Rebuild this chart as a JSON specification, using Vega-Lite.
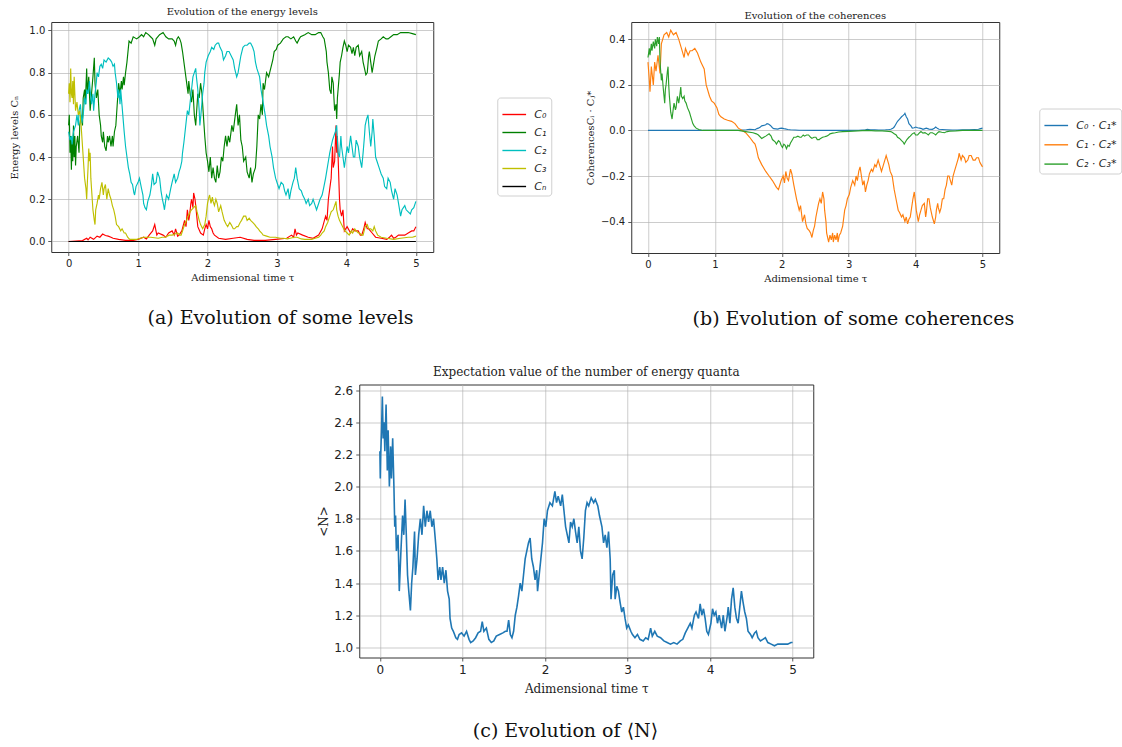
{
  "$schema": "https://vega.github.io/schema/vega-lite/v6.json",
  "padding": {"left": 9, "top": 6, "right": 0, "bottom": 0},
  "spacing": 36.5,
  "center": true,
  "resolve": {"scale": {"color": "independent"}, "legend": {"color": "independent"}},
  "config": {
    "view": {"stroke": "#333333", "strokeWidth": 1},
    "axis": {
      "domain": false, "grid": true, "gridColor": "#b0b0b0", "gridOpacity": 0.65, "gridWidth": 1,
      "tickColor": "#333333", "tickSize": 3.5, "tickWidth": 0.8,
      "labelFont": "DejaVu Sans", "labelColor": "#222222",
      "titleFont": "DejaVu Serif", "titleFontWeight": "normal", "titleColor": "#222222"
    },
    "title": {"font": "DejaVu Serif", "fontWeight": "normal", "color": "#222222"},
    "legend": {
      "orient": "none", "title": null, "symbolType": "stroke", "symbolSize": 560, "symbolStrokeWidth": 1.4,
      "labelFont": "DejaVu Sans", "labelFontStyle": "italic", "labelFontSize": 11, "labelColor": "#222222",
      "padding": 4, "strokeColor": "#d0d0d0", "fillColor": "#ffffff", "cornerRadius": 3, "labelOffset": 7
    }
  },
  "datasets": {
    "levels": [
      {"s":"C₀","t":0,"v":0},{"s":"C₀","t":0.1,"v":0.002},{"s":"C₀","t":0.2,"v":0.004},{"s":"C₀","t":0.26,"v":0.015},{"s":"C₀","t":0.28,"v":0.008},{"s":"C₀","t":0.31,"v":0.02},{"s":"C₀","t":0.36,"v":0.01},{"s":"C₀","t":0.41,"v":0.025},{"s":"C₀","t":0.45,"v":0.02},{"s":"C₀","t":0.49,"v":0.035},{"s":"C₀","t":0.53,"v":0.028},{"s":"C₀","t":0.57,"v":0.025},{"s":"C₀","t":0.61,"v":0.02},{"s":"C₀","t":0.64,"v":0.015},{"s":"C₀","t":0.72,"v":0.01},{"s":"C₀","t":0.82,"v":0.005},{"s":"C₀","t":0.93,"v":0.005},{"s":"C₀","t":1.0,"v":0.01},{"s":"C₀","t":1.08,"v":0.02},{"s":"C₀","t":1.12,"v":0.012},{"s":"C₀","t":1.16,"v":0.03},{"s":"C₀","t":1.21,"v":0.05},{"s":"C₀","t":1.24,"v":0.08},{"s":"C₀","t":1.27,"v":0.03},{"s":"C₀","t":1.29,"v":0.04},{"s":"C₀","t":1.36,"v":0.03},{"s":"C₀","t":1.4,"v":0.02},{"s":"C₀","t":1.44,"v":0.04},{"s":"C₀","t":1.49,"v":0.05},{"s":"C₀","t":1.52,"v":0.03},{"s":"C₀","t":1.54,"v":0.06},{"s":"C₀","t":1.57,"v":0.025},{"s":"C₀","t":1.59,"v":0.03},{"s":"C₀","t":1.63,"v":0.05},{"s":"C₀","t":1.67,"v":0.1},{"s":"C₀","t":1.69,"v":0.07},{"s":"C₀","t":1.71,"v":0.15},{"s":"C₀","t":1.73,"v":0.1},{"s":"C₀","t":1.74,"v":0.12},{"s":"C₀","t":1.76,"v":0.18},{"s":"C₀","t":1.77,"v":0.2},{"s":"C₀","t":1.79,"v":0.16},{"s":"C₀","t":1.8,"v":0.23},{"s":"C₀","t":1.82,"v":0.2},{"s":"C₀","t":1.83,"v":0.17},{"s":"C₀","t":1.86,"v":0.07},{"s":"C₀","t":1.9,"v":0.04},{"s":"C₀","t":1.94,"v":0.03},{"s":"C₀","t":1.96,"v":0.06},{"s":"C₀","t":1.98,"v":0.08},{"s":"C₀","t":2.0,"v":0.06},{"s":"C₀","t":2.02,"v":0.1},{"s":"C₀","t":2.04,"v":0.07},{"s":"C₀","t":2.06,"v":0.06},{"s":"C₀","t":2.08,"v":0.04},{"s":"C₀","t":2.1,"v":0.03},{"s":"C₀","t":2.16,"v":0.015},{"s":"C₀","t":2.26,"v":0.01},{"s":"C₀","t":2.37,"v":0.015},{"s":"C₀","t":2.47,"v":0.02},{"s":"C₀","t":2.57,"v":0.01},{"s":"C₀","t":2.67,"v":0.005},{"s":"C₀","t":2.83,"v":0.005},{"s":"C₀","t":2.98,"v":0.01},{"s":"C₀","t":3.14,"v":0.015},{"s":"C₀","t":3.21,"v":0.03},{"s":"C₀","t":3.24,"v":0.02},{"s":"C₀","t":3.26,"v":0.06},{"s":"C₀","t":3.28,"v":0.03},{"s":"C₀","t":3.3,"v":0.04},{"s":"C₀","t":3.37,"v":0.03},{"s":"C₀","t":3.45,"v":0.02},{"s":"C₀","t":3.52,"v":0.015},{"s":"C₀","t":3.6,"v":0.03},{"s":"C₀","t":3.65,"v":0.06},{"s":"C₀","t":3.7,"v":0.12},{"s":"C₀","t":3.72,"v":0.1},{"s":"C₀","t":3.74,"v":0.2},{"s":"C₀","t":3.76,"v":0.25},{"s":"C₀","t":3.78,"v":0.3},{"s":"C₀","t":3.8,"v":0.45},{"s":"C₀","t":3.81,"v":0.35},{"s":"C₀","t":3.83,"v":0.38},{"s":"C₀","t":3.85,"v":0.55},{"s":"C₀","t":3.86,"v":0.42},{"s":"C₀","t":3.87,"v":0.5},{"s":"C₀","t":3.88,"v":0.4},{"s":"C₀","t":3.9,"v":0.2},{"s":"C₀","t":3.91,"v":0.15},{"s":"C₀","t":3.93,"v":0.12},{"s":"C₀","t":3.95,"v":0.15},{"s":"C₀","t":3.97,"v":0.05},{"s":"C₀","t":4.01,"v":0.07},{"s":"C₀","t":4.06,"v":0.04},{"s":"C₀","t":4.09,"v":0.06},{"s":"C₀","t":4.12,"v":0.05},{"s":"C₀","t":4.17,"v":0.05},{"s":"C₀","t":4.2,"v":0.03},{"s":"C₀","t":4.22,"v":0.03},{"s":"C₀","t":4.25,"v":0.06},{"s":"C₀","t":4.27,"v":0.09},{"s":"C₀","t":4.3,"v":0.06},{"s":"C₀","t":4.32,"v":0.06},{"s":"C₀","t":4.37,"v":0.04},{"s":"C₀","t":4.42,"v":0.02},{"s":"C₀","t":4.5,"v":0.015},{"s":"C₀","t":4.58,"v":0.01},{"s":"C₀","t":4.62,"v":0.02},{"s":"C₀","t":4.65,"v":0.03},{"s":"C₀","t":4.68,"v":0.015},{"s":"C₀","t":4.71,"v":0.02},{"s":"C₀","t":4.75,"v":0.03},{"s":"C₀","t":4.78,"v":0.03},{"s":"C₀","t":4.84,"v":0.03},{"s":"C₀","t":4.89,"v":0.04},{"s":"C₀","t":4.94,"v":0.05},{"s":"C₀","t":4.97,"v":0.05},{"s":"C₀","t":5.0,"v":0.07},
      {"s":"C₁","t":0,"v":0.55},{"s":"C₁","t":0.01,"v":0.6},{"s":"C₁","t":0.02,"v":0.42},{"s":"C₁","t":0.03,"v":0.5},{"s":"C₁","t":0.04,"v":0.34},{"s":"C₁","t":0.05,"v":0.48},{"s":"C₁","t":0.06,"v":0.38},{"s":"C₁","t":0.07,"v":0.55},{"s":"C₁","t":0.08,"v":0.4},{"s":"C₁","t":0.09,"v":0.5},{"s":"C₁","t":0.1,"v":0.36},{"s":"C₁","t":0.11,"v":0.45},{"s":"C₁","t":0.13,"v":0.5},{"s":"C₁","t":0.15,"v":0.42},{"s":"C₁","t":0.16,"v":0.55},{"s":"C₁","t":0.18,"v":0.6},{"s":"C₁","t":0.2,"v":0.55},{"s":"C₁","t":0.21,"v":0.68},{"s":"C₁","t":0.23,"v":0.72},{"s":"C₁","t":0.24,"v":0.65},{"s":"C₁","t":0.26,"v":0.82},{"s":"C₁","t":0.27,"v":0.7},{"s":"C₁","t":0.29,"v":0.78},{"s":"C₁","t":0.31,"v":0.62},{"s":"C₁","t":0.33,"v":0.7},{"s":"C₁","t":0.35,"v":0.78},{"s":"C₁","t":0.37,"v":0.87},{"s":"C₁","t":0.38,"v":0.75},{"s":"C₁","t":0.4,"v":0.68},{"s":"C₁","t":0.42,"v":0.72},{"s":"C₁","t":0.44,"v":0.6},{"s":"C₁","t":0.46,"v":0.55},{"s":"C₁","t":0.47,"v":0.5},{"s":"C₁","t":0.49,"v":0.47},{"s":"C₁","t":0.5,"v":0.52},{"s":"C₁","t":0.52,"v":0.45},{"s":"C₁","t":0.54,"v":0.43},{"s":"C₁","t":0.56,"v":0.5},{"s":"C₁","t":0.57,"v":0.47},{"s":"C₁","t":0.59,"v":0.5},{"s":"C₁","t":0.61,"v":0.45},{"s":"C₁","t":0.63,"v":0.5},{"s":"C₁","t":0.64,"v":0.45},{"s":"C₁","t":0.66,"v":0.52},{"s":"C₁","t":0.68,"v":0.55},{"s":"C₁","t":0.7,"v":0.65},{"s":"C₁","t":0.72,"v":0.75},{"s":"C₁","t":0.74,"v":0.7},{"s":"C₁","t":0.76,"v":0.76},{"s":"C₁","t":0.77,"v":0.72},{"s":"C₁","t":0.79,"v":0.78},{"s":"C₁","t":0.8,"v":0.74},{"s":"C₁","t":0.82,"v":0.8},{"s":"C₁","t":0.84,"v":0.85},{"s":"C₁","t":0.87,"v":0.95},{"s":"C₁","t":0.9,"v":0.94},{"s":"C₁","t":0.93,"v":0.97},{"s":"C₁","t":0.98,"v":0.96},{"s":"C₁","t":1.02,"v":0.97},{"s":"C₁","t":1.05,"v":0.98},{"s":"C₁","t":1.08,"v":0.97},{"s":"C₁","t":1.11,"v":0.99},{"s":"C₁","t":1.15,"v":0.98},{"s":"C₁","t":1.18,"v":0.97},{"s":"C₁","t":1.21,"v":0.96},{"s":"C₁","t":1.24,"v":0.93},{"s":"C₁","t":1.26,"v":0.96},{"s":"C₁","t":1.31,"v":0.98},{"s":"C₁","t":1.36,"v":0.99},{"s":"C₁","t":1.4,"v":0.97},{"s":"C₁","t":1.44,"v":0.96},{"s":"C₁","t":1.49,"v":0.96},{"s":"C₁","t":1.52,"v":0.95},{"s":"C₁","t":1.54,"v":0.93},{"s":"C₁","t":1.56,"v":0.96},{"s":"C₁","t":1.58,"v":0.97},{"s":"C₁","t":1.6,"v":0.96},{"s":"C₁","t":1.62,"v":0.94},{"s":"C₁","t":1.64,"v":0.9},{"s":"C₁","t":1.66,"v":0.85},{"s":"C₁","t":1.68,"v":0.8},{"s":"C₁","t":1.7,"v":0.75},{"s":"C₁","t":1.72,"v":0.7},{"s":"C₁","t":1.73,"v":0.76},{"s":"C₁","t":1.75,"v":0.7},{"s":"C₁","t":1.77,"v":0.66},{"s":"C₁","t":1.79,"v":0.72},{"s":"C₁","t":1.81,"v":0.6},{"s":"C₁","t":1.83,"v":0.55},{"s":"C₁","t":1.85,"v":0.65},{"s":"C₁","t":1.86,"v":0.7},{"s":"C₁","t":1.88,"v":0.68},{"s":"C₁","t":1.9,"v":0.75},{"s":"C₁","t":1.92,"v":0.7},{"s":"C₁","t":1.94,"v":0.6},{"s":"C₁","t":1.96,"v":0.5},{"s":"C₁","t":1.98,"v":0.42},{"s":"C₁","t":2.0,"v":0.38},{"s":"C₁","t":2.02,"v":0.33},{"s":"C₁","t":2.04,"v":0.4},{"s":"C₁","t":2.06,"v":0.3},{"s":"C₁","t":2.08,"v":0.35},{"s":"C₁","t":2.1,"v":0.3},{"s":"C₁","t":2.12,"v":0.28},{"s":"C₁","t":2.14,"v":0.36},{"s":"C₁","t":2.16,"v":0.3},{"s":"C₁","t":2.18,"v":0.33},{"s":"C₁","t":2.2,"v":0.4},{"s":"C₁","t":2.22,"v":0.38},{"s":"C₁","t":2.24,"v":0.45},{"s":"C₁","t":2.26,"v":0.5},{"s":"C₁","t":2.28,"v":0.45},{"s":"C₁","t":2.3,"v":0.5},{"s":"C₁","t":2.32,"v":0.47},{"s":"C₁","t":2.35,"v":0.55},{"s":"C₁","t":2.37,"v":0.52},{"s":"C₁","t":2.4,"v":0.6},{"s":"C₁","t":2.42,"v":0.65},{"s":"C₁","t":2.44,"v":0.55},{"s":"C₁","t":2.46,"v":0.6},{"s":"C₁","t":2.48,"v":0.48},{"s":"C₁","t":2.5,"v":0.45},{"s":"C₁","t":2.52,"v":0.38},{"s":"C₁","t":2.55,"v":0.4},{"s":"C₁","t":2.57,"v":0.33},{"s":"C₁","t":2.6,"v":0.3},{"s":"C₁","t":2.62,"v":0.35},{"s":"C₁","t":2.64,"v":0.28},{"s":"C₁","t":2.66,"v":0.32},{"s":"C₁","t":2.69,"v":0.35},{"s":"C₁","t":2.71,"v":0.45},{"s":"C₁","t":2.73,"v":0.6},{"s":"C₁","t":2.75,"v":0.58},{"s":"C₁","t":2.77,"v":0.65},{"s":"C₁","t":2.79,"v":0.6},{"s":"C₁","t":2.8,"v":0.75},{"s":"C₁","t":2.82,"v":0.72},{"s":"C₁","t":2.85,"v":0.8},{"s":"C₁","t":2.88,"v":0.78},{"s":"C₁","t":2.91,"v":0.82},{"s":"C₁","t":2.94,"v":0.86},{"s":"C₁","t":2.96,"v":0.9},{"s":"C₁","t":2.99,"v":0.91},{"s":"C₁","t":3.01,"v":0.93},{"s":"C₁","t":3.05,"v":0.94},{"s":"C₁","t":3.09,"v":0.96},{"s":"C₁","t":3.13,"v":0.97},{"s":"C₁","t":3.16,"v":0.97},{"s":"C₁","t":3.2,"v":0.96},{"s":"C₁","t":3.24,"v":0.97},{"s":"C₁","t":3.27,"v":0.95},{"s":"C₁","t":3.29,"v":0.94},{"s":"C₁","t":3.32,"v":0.96},{"s":"C₁","t":3.34,"v":0.97},{"s":"C₁","t":3.4,"v":0.98},{"s":"C₁","t":3.45,"v":0.99},{"s":"C₁","t":3.5,"v":0.98},{"s":"C₁","t":3.55,"v":0.98},{"s":"C₁","t":3.6,"v":0.99},{"s":"C₁","t":3.63,"v":0.99},{"s":"C₁","t":3.66,"v":0.97},{"s":"C₁","t":3.68,"v":0.96},{"s":"C₁","t":3.7,"v":0.92},{"s":"C₁","t":3.71,"v":0.9},{"s":"C₁","t":3.72,"v":0.85},{"s":"C₁","t":3.74,"v":0.8},{"s":"C₁","t":3.76,"v":0.72},{"s":"C₁","t":3.78,"v":0.7},{"s":"C₁","t":3.79,"v":0.78},{"s":"C₁","t":3.81,"v":0.75},{"s":"C₁","t":3.82,"v":0.68},{"s":"C₁","t":3.83,"v":0.62},{"s":"C₁","t":3.85,"v":0.65},{"s":"C₁","t":3.86,"v":0.58},{"s":"C₁","t":3.87,"v":0.68},{"s":"C₁","t":3.88,"v":0.72},{"s":"C₁","t":3.9,"v":0.8},{"s":"C₁","t":3.91,"v":0.85},{"s":"C₁","t":3.93,"v":0.88},{"s":"C₁","t":3.95,"v":0.92},{"s":"C₁","t":3.97,"v":0.95},{"s":"C₁","t":3.99,"v":0.93},{"s":"C₁","t":4.01,"v":0.9},{"s":"C₁","t":4.03,"v":0.93},{"s":"C₁","t":4.06,"v":0.92},{"s":"C₁","t":4.08,"v":0.89},{"s":"C₁","t":4.1,"v":0.92},{"s":"C₁","t":4.12,"v":0.88},{"s":"C₁","t":4.14,"v":0.92},{"s":"C₁","t":4.17,"v":0.93},{"s":"C₁","t":4.19,"v":0.88},{"s":"C₁","t":4.22,"v":0.9},{"s":"C₁","t":4.24,"v":0.85},{"s":"C₁","t":4.26,"v":0.82},{"s":"C₁","t":4.28,"v":0.79},{"s":"C₁","t":4.3,"v":0.8},{"s":"C₁","t":4.32,"v":0.88},{"s":"C₁","t":4.33,"v":0.9},{"s":"C₁","t":4.35,"v":0.85},{"s":"C₁","t":4.37,"v":0.8},{"s":"C₁","t":4.39,"v":0.84},{"s":"C₁","t":4.41,"v":0.88},{"s":"C₁","t":4.44,"v":0.92},{"s":"C₁","t":4.46,"v":0.95},{"s":"C₁","t":4.5,"v":0.96},{"s":"C₁","t":4.53,"v":0.97},{"s":"C₁","t":4.57,"v":0.96},{"s":"C₁","t":4.6,"v":0.96},{"s":"C₁","t":4.64,"v":0.97},{"s":"C₁","t":4.68,"v":0.98},{"s":"C₁","t":4.73,"v":0.98},{"s":"C₁","t":4.78,"v":0.99},{"s":"C₁","t":4.84,"v":0.99},{"s":"C₁","t":4.89,"v":0.99},{"s":"C₁","t":4.95,"v":0.985},{"s":"C₁","t":5.0,"v":0.98},
      {"s":"C₂","t":0,"v":0.52},{"s":"C₂","t":0.02,"v":0.48},{"s":"C₂","t":0.04,"v":0.5},{"s":"C₂","t":0.05,"v":0.46},{"s":"C₂","t":0.07,"v":0.52},{"s":"C₂","t":0.1,"v":0.55},{"s":"C₂","t":0.12,"v":0.6},{"s":"C₂","t":0.14,"v":0.55},{"s":"C₂","t":0.15,"v":0.62},{"s":"C₂","t":0.17,"v":0.65},{"s":"C₂","t":0.19,"v":0.56},{"s":"C₂","t":0.21,"v":0.6},{"s":"C₂","t":0.23,"v":0.68},{"s":"C₂","t":0.25,"v":0.65},{"s":"C₂","t":0.26,"v":0.72},{"s":"C₂","t":0.28,"v":0.7},{"s":"C₂","t":0.3,"v":0.76},{"s":"C₂","t":0.31,"v":0.72},{"s":"C₂","t":0.33,"v":0.65},{"s":"C₂","t":0.35,"v":0.7},{"s":"C₂","t":0.36,"v":0.62},{"s":"C₂","t":0.38,"v":0.7},{"s":"C₂","t":0.4,"v":0.76},{"s":"C₂","t":0.41,"v":0.8},{"s":"C₂","t":0.43,"v":0.78},{"s":"C₂","t":0.45,"v":0.83},{"s":"C₂","t":0.47,"v":0.84},{"s":"C₂","t":0.49,"v":0.82},{"s":"C₂","t":0.51,"v":0.86},{"s":"C₂","t":0.54,"v":0.85},{"s":"C₂","t":0.57,"v":0.87},{"s":"C₂","t":0.6,"v":0.86},{"s":"C₂","t":0.62,"v":0.85},{"s":"C₂","t":0.64,"v":0.83},{"s":"C₂","t":0.66,"v":0.84},{"s":"C₂","t":0.67,"v":0.8},{"s":"C₂","t":0.69,"v":0.75},{"s":"C₂","t":0.71,"v":0.68},{"s":"C₂","t":0.72,"v":0.72},{"s":"C₂","t":0.74,"v":0.65},{"s":"C₂","t":0.75,"v":0.72},{"s":"C₂","t":0.77,"v":0.64},{"s":"C₂","t":0.78,"v":0.6},{"s":"C₂","t":0.8,"v":0.52},{"s":"C₂","t":0.82,"v":0.45},{"s":"C₂","t":0.84,"v":0.4},{"s":"C₂","t":0.86,"v":0.35},{"s":"C₂","t":0.88,"v":0.32},{"s":"C₂","t":0.9,"v":0.28},{"s":"C₂","t":0.92,"v":0.27},{"s":"C₂","t":0.94,"v":0.23},{"s":"C₂","t":0.95,"v":0.22},{"s":"C₂","t":0.97,"v":0.26},{"s":"C₂","t":1.0,"v":0.28},{"s":"C₂","t":1.02,"v":0.3},{"s":"C₂","t":1.05,"v":0.25},{"s":"C₂","t":1.07,"v":0.22},{"s":"C₂","t":1.08,"v":0.18},{"s":"C₂","t":1.1,"v":0.16},{"s":"C₂","t":1.12,"v":0.15},{"s":"C₂","t":1.14,"v":0.19},{"s":"C₂","t":1.17,"v":0.22},{"s":"C₂","t":1.19,"v":0.26},{"s":"C₂","t":1.21,"v":0.32},{"s":"C₂","t":1.23,"v":0.27},{"s":"C₂","t":1.26,"v":0.28},{"s":"C₂","t":1.28,"v":0.33},{"s":"C₂","t":1.31,"v":0.3},{"s":"C₂","t":1.33,"v":0.24},{"s":"C₂","t":1.35,"v":0.2},{"s":"C₂","t":1.37,"v":0.17},{"s":"C₂","t":1.38,"v":0.15},{"s":"C₂","t":1.4,"v":0.2},{"s":"C₂","t":1.41,"v":0.22},{"s":"C₂","t":1.44,"v":0.2},{"s":"C₂","t":1.47,"v":0.25},{"s":"C₂","t":1.49,"v":0.28},{"s":"C₂","t":1.52,"v":0.32},{"s":"C₂","t":1.54,"v":0.28},{"s":"C₂","t":1.57,"v":0.3},{"s":"C₂","t":1.59,"v":0.33},{"s":"C₂","t":1.61,"v":0.35},{"s":"C₂","t":1.63,"v":0.38},{"s":"C₂","t":1.64,"v":0.42},{"s":"C₂","t":1.66,"v":0.47},{"s":"C₂","t":1.67,"v":0.5},{"s":"C₂","t":1.69,"v":0.56},{"s":"C₂","t":1.71,"v":0.62},{"s":"C₂","t":1.73,"v":0.6},{"s":"C₂","t":1.75,"v":0.66},{"s":"C₂","t":1.77,"v":0.72},{"s":"C₂","t":1.79,"v":0.78},{"s":"C₂","t":1.81,"v":0.8},{"s":"C₂","t":1.83,"v":0.82},{"s":"C₂","t":1.84,"v":0.78},{"s":"C₂","t":1.86,"v":0.72},{"s":"C₂","t":1.88,"v":0.62},{"s":"C₂","t":1.89,"v":0.55},{"s":"C₂","t":1.91,"v":0.62},{"s":"C₂","t":1.93,"v":0.7},{"s":"C₂","t":1.95,"v":0.75},{"s":"C₂","t":1.96,"v":0.8},{"s":"C₂","t":1.98,"v":0.85},{"s":"C₂","t":2.01,"v":0.88},{"s":"C₂","t":2.04,"v":0.9},{"s":"C₂","t":2.06,"v":0.92},{"s":"C₂","t":2.09,"v":0.91},{"s":"C₂","t":2.11,"v":0.93},{"s":"C₂","t":2.14,"v":0.94},{"s":"C₂","t":2.16,"v":0.94},{"s":"C₂","t":2.18,"v":0.92},{"s":"C₂","t":2.21,"v":0.9},{"s":"C₂","t":2.23,"v":0.86},{"s":"C₂","t":2.26,"v":0.88},{"s":"C₂","t":2.28,"v":0.9},{"s":"C₂","t":2.31,"v":0.9},{"s":"C₂","t":2.34,"v":0.88},{"s":"C₂","t":2.37,"v":0.86},{"s":"C₂","t":2.39,"v":0.82},{"s":"C₂","t":2.42,"v":0.78},{"s":"C₂","t":2.44,"v":0.8},{"s":"C₂","t":2.46,"v":0.84},{"s":"C₂","t":2.48,"v":0.88},{"s":"C₂","t":2.51,"v":0.92},{"s":"C₂","t":2.54,"v":0.93},{"s":"C₂","t":2.57,"v":0.93},{"s":"C₂","t":2.6,"v":0.94},{"s":"C₂","t":2.62,"v":0.94},{"s":"C₂","t":2.65,"v":0.92},{"s":"C₂","t":2.67,"v":0.9},{"s":"C₂","t":2.69,"v":0.85},{"s":"C₂","t":2.71,"v":0.82},{"s":"C₂","t":2.73,"v":0.8},{"s":"C₂","t":2.75,"v":0.78},{"s":"C₂","t":2.77,"v":0.72},{"s":"C₂","t":2.79,"v":0.68},{"s":"C₂","t":2.81,"v":0.64},{"s":"C₂","t":2.83,"v":0.6},{"s":"C₂","t":2.85,"v":0.55},{"s":"C₂","t":2.88,"v":0.5},{"s":"C₂","t":2.9,"v":0.45},{"s":"C₂","t":2.93,"v":0.4},{"s":"C₂","t":2.95,"v":0.35},{"s":"C₂","t":2.98,"v":0.3},{"s":"C₂","t":3.01,"v":0.27},{"s":"C₂","t":3.03,"v":0.25},{"s":"C₂","t":3.06,"v":0.28},{"s":"C₂","t":3.09,"v":0.27},{"s":"C₂","t":3.11,"v":0.24},{"s":"C₂","t":3.13,"v":0.22},{"s":"C₂","t":3.16,"v":0.25},{"s":"C₂","t":3.18,"v":0.2},{"s":"C₂","t":3.2,"v":0.24},{"s":"C₂","t":3.23,"v":0.28},{"s":"C₂","t":3.25,"v":0.3},{"s":"C₂","t":3.27,"v":0.35},{"s":"C₂","t":3.29,"v":0.3},{"s":"C₂","t":3.32,"v":0.25},{"s":"C₂","t":3.35,"v":0.24},{"s":"C₂","t":3.37,"v":0.22},{"s":"C₂","t":3.4,"v":0.2},{"s":"C₂","t":3.42,"v":0.18},{"s":"C₂","t":3.45,"v":0.2},{"s":"C₂","t":3.47,"v":0.17},{"s":"C₂","t":3.5,"v":0.18},{"s":"C₂","t":3.52,"v":0.2},{"s":"C₂","t":3.55,"v":0.17},{"s":"C₂","t":3.57,"v":0.15},{"s":"C₂","t":3.6,"v":0.18},{"s":"C₂","t":3.62,"v":0.2},{"s":"C₂","t":3.65,"v":0.22},{"s":"C₂","t":3.67,"v":0.25},{"s":"C₂","t":3.7,"v":0.3},{"s":"C₂","t":3.72,"v":0.34},{"s":"C₂","t":3.74,"v":0.38},{"s":"C₂","t":3.76,"v":0.42},{"s":"C₂","t":3.78,"v":0.45},{"s":"C₂","t":3.8,"v":0.48},{"s":"C₂","t":3.82,"v":0.5},{"s":"C₂","t":3.84,"v":0.52},{"s":"C₂","t":3.86,"v":0.55},{"s":"C₂","t":3.87,"v":0.48},{"s":"C₂","t":3.88,"v":0.42},{"s":"C₂","t":3.9,"v":0.4},{"s":"C₂","t":3.92,"v":0.5},{"s":"C₂","t":3.93,"v":0.45},{"s":"C₂","t":3.95,"v":0.4},{"s":"C₂","t":3.97,"v":0.35},{"s":"C₂","t":3.99,"v":0.4},{"s":"C₂","t":4.01,"v":0.45},{"s":"C₂","t":4.03,"v":0.42},{"s":"C₂","t":4.06,"v":0.5},{"s":"C₂","t":4.08,"v":0.45},{"s":"C₂","t":4.1,"v":0.4},{"s":"C₂","t":4.12,"v":0.4},{"s":"C₂","t":4.14,"v":0.48},{"s":"C₂","t":4.17,"v":0.45},{"s":"C₂","t":4.19,"v":0.4},{"s":"C₂","t":4.22,"v":0.35},{"s":"C₂","t":4.24,"v":0.42},{"s":"C₂","t":4.26,"v":0.5},{"s":"C₂","t":4.27,"v":0.55},{"s":"C₂","t":4.29,"v":0.58},{"s":"C₂","t":4.31,"v":0.6},{"s":"C₂","t":4.33,"v":0.52},{"s":"C₂","t":4.35,"v":0.45},{"s":"C₂","t":4.37,"v":0.52},{"s":"C₂","t":4.38,"v":0.58},{"s":"C₂","t":4.4,"v":0.5},{"s":"C₂","t":4.42,"v":0.4},{"s":"C₂","t":4.44,"v":0.38},{"s":"C₂","t":4.47,"v":0.35},{"s":"C₂","t":4.5,"v":0.32},{"s":"C₂","t":4.53,"v":0.3},{"s":"C₂","t":4.55,"v":0.26},{"s":"C₂","t":4.58,"v":0.25},{"s":"C₂","t":4.6,"v":0.3},{"s":"C₂","t":4.63,"v":0.28},{"s":"C₂","t":4.65,"v":0.24},{"s":"C₂","t":4.68,"v":0.2},{"s":"C₂","t":4.7,"v":0.25},{"s":"C₂","t":4.73,"v":0.22},{"s":"C₂","t":4.75,"v":0.18},{"s":"C₂","t":4.78,"v":0.12},{"s":"C₂","t":4.8,"v":0.15},{"s":"C₂","t":4.84,"v":0.17},{"s":"C₂","t":4.86,"v":0.15},{"s":"C₂","t":4.89,"v":0.14},{"s":"C₂","t":4.92,"v":0.13},{"s":"C₂","t":4.94,"v":0.15},{"s":"C₂","t":4.97,"v":0.16},{"s":"C₂","t":5.0,"v":0.19},
      {"s":"C₃","t":0,"v":0.7},{"s":"C₃","t":0.01,"v":0.75},{"s":"C₃","t":0.02,"v":0.66},{"s":"C₃","t":0.03,"v":0.82},{"s":"C₃","t":0.04,"v":0.7},{"s":"C₃","t":0.05,"v":0.68},{"s":"C₃","t":0.06,"v":0.76},{"s":"C₃","t":0.07,"v":0.65},{"s":"C₃","t":0.08,"v":0.78},{"s":"C₃","t":0.09,"v":0.7},{"s":"C₃","t":0.1,"v":0.62},{"s":"C₃","t":0.12,"v":0.66},{"s":"C₃","t":0.14,"v":0.6},{"s":"C₃","t":0.16,"v":0.62},{"s":"C₃","t":0.18,"v":0.55},{"s":"C₃","t":0.19,"v":0.5},{"s":"C₃","t":0.21,"v":0.4},{"s":"C₃","t":0.22,"v":0.35},{"s":"C₃","t":0.23,"v":0.3},{"s":"C₃","t":0.25,"v":0.25},{"s":"C₃","t":0.26,"v":0.2},{"s":"C₃","t":0.27,"v":0.28},{"s":"C₃","t":0.28,"v":0.35},{"s":"C₃","t":0.29,"v":0.44},{"s":"C₃","t":0.3,"v":0.38},{"s":"C₃","t":0.31,"v":0.42},{"s":"C₃","t":0.32,"v":0.3},{"s":"C₃","t":0.33,"v":0.25},{"s":"C₃","t":0.35,"v":0.15},{"s":"C₃","t":0.37,"v":0.1},{"s":"C₃","t":0.38,"v":0.08},{"s":"C₃","t":0.39,"v":0.15},{"s":"C₃","t":0.41,"v":0.18},{"s":"C₃","t":0.43,"v":0.22},{"s":"C₃","t":0.44,"v":0.2},{"s":"C₃","t":0.46,"v":0.25},{"s":"C₃","t":0.48,"v":0.28},{"s":"C₃","t":0.5,"v":0.22},{"s":"C₃","t":0.51,"v":0.25},{"s":"C₃","t":0.53,"v":0.27},{"s":"C₃","t":0.55,"v":0.2},{"s":"C₃","t":0.57,"v":0.25},{"s":"C₃","t":0.59,"v":0.22},{"s":"C₃","t":0.61,"v":0.2},{"s":"C₃","t":0.63,"v":0.17},{"s":"C₃","t":0.65,"v":0.15},{"s":"C₃","t":0.67,"v":0.12},{"s":"C₃","t":0.69,"v":0.08},{"s":"C₃","t":0.72,"v":0.07},{"s":"C₃","t":0.75,"v":0.05},{"s":"C₃","t":0.77,"v":0.06},{"s":"C₃","t":0.8,"v":0.04},{"s":"C₃","t":0.82,"v":0.04},{"s":"C₃","t":0.85,"v":0.02},{"s":"C₃","t":0.88,"v":0.01},{"s":"C₃","t":0.93,"v":0.01},{"s":"C₃","t":0.98,"v":0.01},{"s":"C₃","t":1.08,"v":0.02},{"s":"C₃","t":1.18,"v":0.02},{"s":"C₃","t":1.29,"v":0.015},{"s":"C₃","t":1.35,"v":0.02},{"s":"C₃","t":1.39,"v":0.02},{"s":"C₃","t":1.45,"v":0.03},{"s":"C₃","t":1.49,"v":0.03},{"s":"C₃","t":1.53,"v":0.035},{"s":"C₃","t":1.57,"v":0.04},{"s":"C₃","t":1.6,"v":0.03},{"s":"C₃","t":1.62,"v":0.03},{"s":"C₃","t":1.65,"v":0.06},{"s":"C₃","t":1.67,"v":0.08},{"s":"C₃","t":1.7,"v":0.1},{"s":"C₃","t":1.72,"v":0.12},{"s":"C₃","t":1.75,"v":0.14},{"s":"C₃","t":1.77,"v":0.15},{"s":"C₃","t":1.8,"v":0.16},{"s":"C₃","t":1.83,"v":0.17},{"s":"C₃","t":1.85,"v":0.14},{"s":"C₃","t":1.88,"v":0.1},{"s":"C₃","t":1.9,"v":0.08},{"s":"C₃","t":1.93,"v":0.06},{"s":"C₃","t":1.96,"v":0.08},{"s":"C₃","t":1.98,"v":0.12},{"s":"C₃","t":2.0,"v":0.18},{"s":"C₃","t":2.02,"v":0.21},{"s":"C₃","t":2.03,"v":0.22},{"s":"C₃","t":2.05,"v":0.18},{"s":"C₃","t":2.07,"v":0.21},{"s":"C₃","t":2.08,"v":0.19},{"s":"C₃","t":2.1,"v":0.17},{"s":"C₃","t":2.12,"v":0.2},{"s":"C₃","t":2.14,"v":0.18},{"s":"C₃","t":2.16,"v":0.14},{"s":"C₃","t":2.19,"v":0.17},{"s":"C₃","t":2.21,"v":0.14},{"s":"C₃","t":2.24,"v":0.1},{"s":"C₃","t":2.27,"v":0.08},{"s":"C₃","t":2.29,"v":0.07},{"s":"C₃","t":2.32,"v":0.09},{"s":"C₃","t":2.34,"v":0.08},{"s":"C₃","t":2.37,"v":0.06},{"s":"C₃","t":2.39,"v":0.06},{"s":"C₃","t":2.42,"v":0.07},{"s":"C₃","t":2.44,"v":0.07},{"s":"C₃","t":2.47,"v":0.09},{"s":"C₃","t":2.49,"v":0.1},{"s":"C₃","t":2.52,"v":0.12},{"s":"C₃","t":2.55,"v":0.12},{"s":"C₃","t":2.57,"v":0.1},{"s":"C₃","t":2.6,"v":0.11},{"s":"C₃","t":2.62,"v":0.1},{"s":"C₃","t":2.65,"v":0.09},{"s":"C₃","t":2.68,"v":0.08},{"s":"C₃","t":2.7,"v":0.07},{"s":"C₃","t":2.73,"v":0.06},{"s":"C₃","t":2.75,"v":0.05},{"s":"C₃","t":2.78,"v":0.04},{"s":"C₃","t":2.8,"v":0.03},{"s":"C₃","t":2.85,"v":0.025},{"s":"C₃","t":2.9,"v":0.02},{"s":"C₃","t":2.98,"v":0.02},{"s":"C₃","t":3.05,"v":0.015},{"s":"C₃","t":3.09,"v":0.015},{"s":"C₃","t":3.15,"v":0.012},{"s":"C₃","t":3.19,"v":0.015},{"s":"C₃","t":3.25,"v":0.02},{"s":"C₃","t":3.29,"v":0.02},{"s":"C₃","t":3.35,"v":0.012},{"s":"C₃","t":3.4,"v":0.01},{"s":"C₃","t":3.5,"v":0.01},{"s":"C₃","t":3.55,"v":0.015},{"s":"C₃","t":3.6,"v":0.02},{"s":"C₃","t":3.63,"v":0.03},{"s":"C₃","t":3.65,"v":0.04},{"s":"C₃","t":3.68,"v":0.05},{"s":"C₃","t":3.7,"v":0.07},{"s":"C₃","t":3.73,"v":0.09},{"s":"C₃","t":3.76,"v":0.12},{"s":"C₃","t":3.78,"v":0.14},{"s":"C₃","t":3.81,"v":0.15},{"s":"C₃","t":3.83,"v":0.17},{"s":"C₃","t":3.85,"v":0.19},{"s":"C₃","t":3.86,"v":0.15},{"s":"C₃","t":3.88,"v":0.12},{"s":"C₃","t":3.9,"v":0.1},{"s":"C₃","t":3.93,"v":0.08},{"s":"C₃","t":3.96,"v":0.06},{"s":"C₃","t":3.98,"v":0.05},{"s":"C₃","t":4.01,"v":0.04},{"s":"C₃","t":4.04,"v":0.03},{"s":"C₃","t":4.07,"v":0.05},{"s":"C₃","t":4.09,"v":0.04},{"s":"C₃","t":4.12,"v":0.06},{"s":"C₃","t":4.14,"v":0.05},{"s":"C₃","t":4.17,"v":0.04},{"s":"C₃","t":4.19,"v":0.04},{"s":"C₃","t":4.22,"v":0.03},{"s":"C₃","t":4.24,"v":0.03},{"s":"C₃","t":4.27,"v":0.07},{"s":"C₃","t":4.3,"v":0.08},{"s":"C₃","t":4.32,"v":0.06},{"s":"C₃","t":4.35,"v":0.06},{"s":"C₃","t":4.38,"v":0.05},{"s":"C₃","t":4.4,"v":0.07},{"s":"C₃","t":4.42,"v":0.05},{"s":"C₃","t":4.45,"v":0.03},{"s":"C₃","t":4.5,"v":0.02},{"s":"C₃","t":4.58,"v":0.015},{"s":"C₃","t":4.68,"v":0.01},{"s":"C₃","t":4.78,"v":0.015},{"s":"C₃","t":4.89,"v":0.02},{"s":"C₃","t":4.95,"v":0.02},{"s":"C₃","t":5.0,"v":0.025},
      {"s":"Cₙ","t":0,"v":0},{"s":"Cₙ","t":5,"v":0}
    ],
    "coher": [
      {"s":"C₀ · C₁*","t":0,"v":0},{"s":"C₀ · C₁*","t":0.5,"v":0},{"s":"C₀ · C₁*","t":1.0,"v":0},{"s":"C₀ · C₁*","t":1.2,"v":0.001},{"s":"C₀ · C₁*","t":1.35,"v":0.001},{"s":"C₀ · C₁*","t":1.41,"v":0.002},{"s":"C₀ · C₁*","t":1.47,"v":0.003},{"s":"C₀ · C₁*","t":1.52,"v":0.005},{"s":"C₀ · C₁*","t":1.57,"v":0.004},{"s":"C₀ · C₁*","t":1.6,"v":0.003},{"s":"C₀ · C₁*","t":1.63,"v":0.008},{"s":"C₀ · C₁*","t":1.65,"v":0.01},{"s":"C₀ · C₁*","t":1.68,"v":0.015},{"s":"C₀ · C₁*","t":1.7,"v":0.02},{"s":"C₀ · C₁*","t":1.73,"v":0.022},{"s":"C₀ · C₁*","t":1.76,"v":0.025},{"s":"C₀ · C₁*","t":1.78,"v":0.03},{"s":"C₀ · C₁*","t":1.8,"v":0.028},{"s":"C₀ · C₁*","t":1.83,"v":0.022},{"s":"C₀ · C₁*","t":1.86,"v":0.012},{"s":"C₀ · C₁*","t":1.88,"v":0.008},{"s":"C₀ · C₁*","t":1.91,"v":0.007},{"s":"C₀ · C₁*","t":1.94,"v":0.006},{"s":"C₀ · C₁*","t":1.97,"v":0.009},{"s":"C₀ · C₁*","t":2.0,"v":0.01},{"s":"C₀ · C₁*","t":2.03,"v":0.008},{"s":"C₀ · C₁*","t":2.05,"v":0.007},{"s":"C₀ · C₁*","t":2.09,"v":0.004},{"s":"C₀ · C₁*","t":2.13,"v":0.003},{"s":"C₀ · C₁*","t":2.2,"v":0.002},{"s":"C₀ · C₁*","t":2.26,"v":0.001},{"s":"C₀ · C₁*","t":2.5,"v":0},{"s":"C₀ · C₁*","t":3.0,"v":0},{"s":"C₀ · C₁*","t":3.15,"v":0.001},{"s":"C₀ · C₁*","t":3.25,"v":0.003},{"s":"C₀ · C₁*","t":3.28,"v":0.005},{"s":"C₀ · C₁*","t":3.32,"v":0.003},{"s":"C₀ · C₁*","t":3.39,"v":0.003},{"s":"C₀ · C₁*","t":3.45,"v":0.002},{"s":"C₀ · C₁*","t":3.55,"v":0.003},{"s":"C₀ · C₁*","t":3.6,"v":0.004},{"s":"C₀ · C₁*","t":3.63,"v":0.005},{"s":"C₀ · C₁*","t":3.66,"v":0.01},{"s":"C₀ · C₁*","t":3.68,"v":0.015},{"s":"C₀ · C₁*","t":3.7,"v":0.025},{"s":"C₀ · C₁*","t":3.73,"v":0.04},{"s":"C₀ · C₁*","t":3.76,"v":0.05},{"s":"C₀ · C₁*","t":3.79,"v":0.06},{"s":"C₀ · C₁*","t":3.81,"v":0.065},{"s":"C₀ · C₁*","t":3.83,"v":0.07},{"s":"C₀ · C₁*","t":3.84,"v":0.075},{"s":"C₀ · C₁*","t":3.86,"v":0.06},{"s":"C₀ · C₁*","t":3.88,"v":0.05},{"s":"C₀ · C₁*","t":3.9,"v":0.03},{"s":"C₀ · C₁*","t":3.93,"v":0.02},{"s":"C₀ · C₁*","t":3.95,"v":0.01},{"s":"C₀ · C₁*","t":3.98,"v":0.012},{"s":"C₀ · C₁*","t":4.0,"v":0.015},{"s":"C₀ · C₁*","t":4.03,"v":0.012},{"s":"C₀ · C₁*","t":4.06,"v":0.01},{"s":"C₀ · C₁*","t":4.09,"v":0.008},{"s":"C₀ · C₁*","t":4.11,"v":0.005},{"s":"C₀ · C₁*","t":4.14,"v":0.008},{"s":"C₀ · C₁*","t":4.16,"v":0.01},{"s":"C₀ · C₁*","t":4.2,"v":0.006},{"s":"C₀ · C₁*","t":4.25,"v":0.005},{"s":"C₀ · C₁*","t":4.28,"v":0.01},{"s":"C₀ · C₁*","t":4.3,"v":0.015},{"s":"C₀ · C₁*","t":4.33,"v":0.008},{"s":"C₀ · C₁*","t":4.35,"v":0.005},{"s":"C₀ · C₁*","t":4.4,"v":0.004},{"s":"C₀ · C₁*","t":4.46,"v":0.003},{"s":"C₀ · C₁*","t":4.55,"v":0.002},{"s":"C₀ · C₁*","t":4.62,"v":0.002},{"s":"C₀ · C₁*","t":4.7,"v":0.003},{"s":"C₀ · C₁*","t":4.8,"v":0.003},{"s":"C₀ · C₁*","t":4.88,"v":0.004},{"s":"C₀ · C₁*","t":4.94,"v":0.005},{"s":"C₀ · C₁*","t":4.97,"v":0.008},{"s":"C₀ · C₁*","t":5.0,"v":0.01},
      {"s":"C₁ · C₂*","t":0,"v":0.3},{"s":"C₁ · C₂*","t":0.02,"v":0.22},{"s":"C₁ · C₂*","t":0.03,"v":0.17},{"s":"C₁ · C₂*","t":0.05,"v":0.28},{"s":"C₁ · C₂*","t":0.08,"v":0.2},{"s":"C₁ · C₂*","t":0.1,"v":0.3},{"s":"C₁ · C₂*","t":0.12,"v":0.26},{"s":"C₁ · C₂*","t":0.15,"v":0.33},{"s":"C₁ · C₂*","t":0.18,"v":0.25},{"s":"C₁ · C₂*","t":0.2,"v":0.38},{"s":"C₁ · C₂*","t":0.24,"v":0.42},{"s":"C₁ · C₂*","t":0.28,"v":0.43},{"s":"C₁ · C₂*","t":0.31,"v":0.41},{"s":"C₁ · C₂*","t":0.34,"v":0.44},{"s":"C₁ · C₂*","t":0.38,"v":0.42},{"s":"C₁ · C₂*","t":0.42,"v":0.43},{"s":"C₁ · C₂*","t":0.46,"v":0.4},{"s":"C₁ · C₂*","t":0.5,"v":0.36},{"s":"C₁ · C₂*","t":0.54,"v":0.32},{"s":"C₁ · C₂*","t":0.56,"v":0.36},{"s":"C₁ · C₂*","t":0.6,"v":0.33},{"s":"C₁ · C₂*","t":0.63,"v":0.35},{"s":"C₁ · C₂*","t":0.66,"v":0.35},{"s":"C₁ · C₂*","t":0.7,"v":0.36},{"s":"C₁ · C₂*","t":0.74,"v":0.34},{"s":"C₁ · C₂*","t":0.79,"v":0.3},{"s":"C₁ · C₂*","t":0.84,"v":0.27},{"s":"C₁ · C₂*","t":0.87,"v":0.2},{"s":"C₁ · C₂*","t":0.92,"v":0.15},{"s":"C₁ · C₂*","t":0.95,"v":0.13},{"s":"C₁ · C₂*","t":0.99,"v":0.12},{"s":"C₁ · C₂*","t":1.03,"v":0.1},{"s":"C₁ · C₂*","t":1.06,"v":0.07},{"s":"C₁ · C₂*","t":1.09,"v":0.06},{"s":"C₁ · C₂*","t":1.14,"v":0.05},{"s":"C₁ · C₂*","t":1.19,"v":0.045},{"s":"C₁ · C₂*","t":1.25,"v":0.04},{"s":"C₁ · C₂*","t":1.3,"v":0.03},{"s":"C₁ · C₂*","t":1.35,"v":0.01},{"s":"C₁ · C₂*","t":1.41,"v":0},{"s":"C₁ · C₂*","t":1.46,"v":-0.01},{"s":"C₁ · C₂*","t":1.52,"v":-0.03},{"s":"C₁ · C₂*","t":1.57,"v":-0.05},{"s":"C₁ · C₂*","t":1.6,"v":-0.06},{"s":"C₁ · C₂*","t":1.62,"v":-0.08},{"s":"C₁ · C₂*","t":1.65,"v":-0.12},{"s":"C₁ · C₂*","t":1.7,"v":-0.15},{"s":"C₁ · C₂*","t":1.76,"v":-0.18},{"s":"C₁ · C₂*","t":1.81,"v":-0.2},{"s":"C₁ · C₂*","t":1.86,"v":-0.22},{"s":"C₁ · C₂*","t":1.92,"v":-0.25},{"s":"C₁ · C₂*","t":1.95,"v":-0.26},{"s":"C₁ · C₂*","t":1.99,"v":-0.22},{"s":"C₁ · C₂*","t":2.02,"v":-0.2},{"s":"C₁ · C₂*","t":2.04,"v":-0.23},{"s":"C₁ · C₂*","t":2.06,"v":-0.18},{"s":"C₁ · C₂*","t":2.08,"v":-0.21},{"s":"C₁ · C₂*","t":2.1,"v":-0.22},{"s":"C₁ · C₂*","t":2.13,"v":-0.17},{"s":"C₁ · C₂*","t":2.15,"v":-0.19},{"s":"C₁ · C₂*","t":2.18,"v":-0.24},{"s":"C₁ · C₂*","t":2.22,"v":-0.3},{"s":"C₁ · C₂*","t":2.26,"v":-0.35},{"s":"C₁ · C₂*","t":2.28,"v":-0.33},{"s":"C₁ · C₂*","t":2.31,"v":-0.4},{"s":"C₁ · C₂*","t":2.34,"v":-0.37},{"s":"C₁ · C₂*","t":2.36,"v":-0.41},{"s":"C₁ · C₂*","t":2.38,"v":-0.43},{"s":"C₁ · C₂*","t":2.41,"v":-0.44},{"s":"C₁ · C₂*","t":2.43,"v":-0.45},{"s":"C₁ · C₂*","t":2.45,"v":-0.47},{"s":"C₁ · C₂*","t":2.47,"v":-0.44},{"s":"C₁ · C₂*","t":2.49,"v":-0.42},{"s":"C₁ · C₂*","t":2.51,"v":-0.38},{"s":"C₁ · C₂*","t":2.53,"v":-0.35},{"s":"C₁ · C₂*","t":2.55,"v":-0.32},{"s":"C₁ · C₂*","t":2.57,"v":-0.3},{"s":"C₁ · C₂*","t":2.59,"v":-0.32},{"s":"C₁ · C₂*","t":2.61,"v":-0.27},{"s":"C₁ · C₂*","t":2.63,"v":-0.3},{"s":"C₁ · C₂*","t":2.64,"v":-0.35},{"s":"C₁ · C₂*","t":2.66,"v":-0.4},{"s":"C₁ · C₂*","t":2.67,"v":-0.45},{"s":"C₁ · C₂*","t":2.7,"v":-0.49},{"s":"C₁ · C₂*","t":2.72,"v":-0.46},{"s":"C₁ · C₂*","t":2.74,"v":-0.48},{"s":"C₁ · C₂*","t":2.76,"v":-0.45},{"s":"C₁ · C₂*","t":2.77,"v":-0.49},{"s":"C₁ · C₂*","t":2.79,"v":-0.46},{"s":"C₁ · C₂*","t":2.81,"v":-0.48},{"s":"C₁ · C₂*","t":2.83,"v":-0.45},{"s":"C₁ · C₂*","t":2.84,"v":-0.49},{"s":"C₁ · C₂*","t":2.86,"v":-0.46},{"s":"C₁ · C₂*","t":2.88,"v":-0.45},{"s":"C₁ · C₂*","t":2.91,"v":-0.42},{"s":"C₁ · C₂*","t":2.94,"v":-0.35},{"s":"C₁ · C₂*","t":2.96,"v":-0.33},{"s":"C₁ · C₂*","t":2.98,"v":-0.3},{"s":"C₁ · C₂*","t":3.01,"v":-0.28},{"s":"C₁ · C₂*","t":3.03,"v":-0.25},{"s":"C₁ · C₂*","t":3.06,"v":-0.22},{"s":"C₁ · C₂*","t":3.09,"v":-0.24},{"s":"C₁ · C₂*","t":3.11,"v":-0.2},{"s":"C₁ · C₂*","t":3.13,"v":-0.22},{"s":"C₁ · C₂*","t":3.15,"v":-0.18},{"s":"C₁ · C₂*","t":3.17,"v":-0.16},{"s":"C₁ · C₂*","t":3.19,"v":-0.2},{"s":"C₁ · C₂*","t":3.21,"v":-0.24},{"s":"C₁ · C₂*","t":3.23,"v":-0.22},{"s":"C₁ · C₂*","t":3.25,"v":-0.27},{"s":"C₁ · C₂*","t":3.27,"v":-0.24},{"s":"C₁ · C₂*","t":3.29,"v":-0.22},{"s":"C₁ · C₂*","t":3.31,"v":-0.19},{"s":"C₁ · C₂*","t":3.34,"v":-0.17},{"s":"C₁ · C₂*","t":3.36,"v":-0.18},{"s":"C₁ · C₂*","t":3.39,"v":-0.15},{"s":"C₁ · C₂*","t":3.41,"v":-0.16},{"s":"C₁ · C₂*","t":3.44,"v":-0.13},{"s":"C₁ · C₂*","t":3.46,"v":-0.15},{"s":"C₁ · C₂*","t":3.49,"v":-0.18},{"s":"C₁ · C₂*","t":3.52,"v":-0.15},{"s":"C₁ · C₂*","t":3.54,"v":-0.13},{"s":"C₁ · C₂*","t":3.56,"v":-0.11},{"s":"C₁ · C₂*","t":3.58,"v":-0.13},{"s":"C₁ · C₂*","t":3.6,"v":-0.15},{"s":"C₁ · C₂*","t":3.62,"v":-0.18},{"s":"C₁ · C₂*","t":3.65,"v":-0.2},{"s":"C₁ · C₂*","t":3.68,"v":-0.26},{"s":"C₁ · C₂*","t":3.7,"v":-0.29},{"s":"C₁ · C₂*","t":3.72,"v":-0.32},{"s":"C₁ · C₂*","t":3.74,"v":-0.35},{"s":"C₁ · C₂*","t":3.76,"v":-0.36},{"s":"C₁ · C₂*","t":3.79,"v":-0.38},{"s":"C₁ · C₂*","t":3.81,"v":-0.37},{"s":"C₁ · C₂*","t":3.84,"v":-0.4},{"s":"C₁ · C₂*","t":3.86,"v":-0.38},{"s":"C₁ · C₂*","t":3.88,"v":-0.41},{"s":"C₁ · C₂*","t":3.9,"v":-0.39},{"s":"C₁ · C₂*","t":3.92,"v":-0.38},{"s":"C₁ · C₂*","t":3.94,"v":-0.34},{"s":"C₁ · C₂*","t":3.96,"v":-0.3},{"s":"C₁ · C₂*","t":3.98,"v":-0.27},{"s":"C₁ · C₂*","t":4.0,"v":-0.32},{"s":"C₁ · C₂*","t":4.01,"v":-0.35},{"s":"C₁ · C₂*","t":4.04,"v":-0.4},{"s":"C₁ · C₂*","t":4.06,"v":-0.37},{"s":"C₁ · C₂*","t":4.08,"v":-0.35},{"s":"C₁ · C₂*","t":4.1,"v":-0.33},{"s":"C₁ · C₂*","t":4.13,"v":-0.32},{"s":"C₁ · C₂*","t":4.15,"v":-0.38},{"s":"C₁ · C₂*","t":4.16,"v":-0.36},{"s":"C₁ · C₂*","t":4.18,"v":-0.3},{"s":"C₁ · C₂*","t":4.2,"v":-0.3},{"s":"C₁ · C₂*","t":4.22,"v":-0.34},{"s":"C₁ · C₂*","t":4.25,"v":-0.38},{"s":"C₁ · C₂*","t":4.28,"v":-0.41},{"s":"C₁ · C₂*","t":4.3,"v":-0.38},{"s":"C₁ · C₂*","t":4.31,"v":-0.35},{"s":"C₁ · C₂*","t":4.33,"v":-0.32},{"s":"C₁ · C₂*","t":4.34,"v":-0.34},{"s":"C₁ · C₂*","t":4.36,"v":-0.36},{"s":"C₁ · C₂*","t":4.38,"v":-0.34},{"s":"C₁ · C₂*","t":4.4,"v":-0.3},{"s":"C₁ · C₂*","t":4.42,"v":-0.3},{"s":"C₁ · C₂*","t":4.44,"v":-0.26},{"s":"C₁ · C₂*","t":4.46,"v":-0.24},{"s":"C₁ · C₂*","t":4.48,"v":-0.2},{"s":"C₁ · C₂*","t":4.5,"v":-0.2},{"s":"C₁ · C₂*","t":4.52,"v":-0.22},{"s":"C₁ · C₂*","t":4.54,"v":-0.24},{"s":"C₁ · C₂*","t":4.56,"v":-0.2},{"s":"C₁ · C₂*","t":4.58,"v":-0.18},{"s":"C₁ · C₂*","t":4.6,"v":-0.16},{"s":"C₁ · C₂*","t":4.62,"v":-0.14},{"s":"C₁ · C₂*","t":4.64,"v":-0.12},{"s":"C₁ · C₂*","t":4.65,"v":-0.1},{"s":"C₁ · C₂*","t":4.67,"v":-0.12},{"s":"C₁ · C₂*","t":4.68,"v":-0.13},{"s":"C₁ · C₂*","t":4.7,"v":-0.11},{"s":"C₁ · C₂*","t":4.73,"v":-0.12},{"s":"C₁ · C₂*","t":4.75,"v":-0.14},{"s":"C₁ · C₂*","t":4.78,"v":-0.13},{"s":"C₁ · C₂*","t":4.8,"v":-0.11},{"s":"C₁ · C₂*","t":4.83,"v":-0.11},{"s":"C₁ · C₂*","t":4.86,"v":-0.13},{"s":"C₁ · C₂*","t":4.89,"v":-0.13},{"s":"C₁ · C₂*","t":4.91,"v":-0.12},{"s":"C₁ · C₂*","t":4.94,"v":-0.12},{"s":"C₁ · C₂*","t":4.96,"v":-0.14},{"s":"C₁ · C₂*","t":4.98,"v":-0.15},{"s":"C₁ · C₂*","t":5.0,"v":-0.16},
      {"s":"C₂ · C₃*","t":0,"v":0.32},{"s":"C₂ · C₃*","t":0.02,"v":0.36},{"s":"C₂ · C₃*","t":0.03,"v":0.33},{"s":"C₂ · C₃*","t":0.05,"v":0.38},{"s":"C₂ · C₃*","t":0.06,"v":0.35},{"s":"C₂ · C₃*","t":0.08,"v":0.39},{"s":"C₂ · C₃*","t":0.1,"v":0.36},{"s":"C₂ · C₃*","t":0.11,"v":0.4},{"s":"C₂ · C₃*","t":0.13,"v":0.37},{"s":"C₂ · C₃*","t":0.14,"v":0.41},{"s":"C₂ · C₃*","t":0.16,"v":0.38},{"s":"C₂ · C₃*","t":0.17,"v":0.41},{"s":"C₂ · C₃*","t":0.18,"v":0.3},{"s":"C₂ · C₃*","t":0.2,"v":0.22},{"s":"C₂ · C₃*","t":0.21,"v":0.25},{"s":"C₂ · C₃*","t":0.23,"v":0.18},{"s":"C₂ · C₃*","t":0.25,"v":0.12},{"s":"C₂ · C₃*","t":0.26,"v":0.18},{"s":"C₂ · C₃*","t":0.27,"v":0.2},{"s":"C₂ · C₃*","t":0.29,"v":0.26},{"s":"C₂ · C₃*","t":0.3,"v":0.28},{"s":"C₂ · C₃*","t":0.31,"v":0.2},{"s":"C₂ · C₃*","t":0.32,"v":0.15},{"s":"C₂ · C₃*","t":0.34,"v":0.08},{"s":"C₂ · C₃*","t":0.36,"v":0.05},{"s":"C₂ · C₃*","t":0.38,"v":0.1},{"s":"C₂ · C₃*","t":0.39,"v":0.12},{"s":"C₂ · C₃*","t":0.41,"v":0.09},{"s":"C₂ · C₃*","t":0.42,"v":0.1},{"s":"C₂ · C₃*","t":0.44,"v":0.15},{"s":"C₂ · C₃*","t":0.46,"v":0.12},{"s":"C₂ · C₃*","t":0.47,"v":0.14},{"s":"C₂ · C₃*","t":0.49,"v":0.19},{"s":"C₂ · C₃*","t":0.5,"v":0.15},{"s":"C₂ · C₃*","t":0.52,"v":0.14},{"s":"C₂ · C₃*","t":0.54,"v":0.15},{"s":"C₂ · C₃*","t":0.55,"v":0.13},{"s":"C₂ · C₃*","t":0.57,"v":0.12},{"s":"C₂ · C₃*","t":0.59,"v":0.1},{"s":"C₂ · C₃*","t":0.62,"v":0.08},{"s":"C₂ · C₃*","t":0.65,"v":0.05},{"s":"C₂ · C₃*","t":0.67,"v":0.03},{"s":"C₂ · C₃*","t":0.69,"v":0.02},{"s":"C₂ · C₃*","t":0.72,"v":0.01},{"s":"C₂ · C₃*","t":0.76,"v":0.004},{"s":"C₂ · C₃*","t":0.82,"v":0},{"s":"C₂ · C₃*","t":1.0,"v":0},{"s":"C₂ · C₃*","t":1.2,"v":0},{"s":"C₂ · C₃*","t":1.35,"v":0},{"s":"C₂ · C₃*","t":1.46,"v":-0.005},{"s":"C₂ · C₃*","t":1.57,"v":-0.01},{"s":"C₂ · C₃*","t":1.62,"v":-0.015},{"s":"C₂ · C₃*","t":1.65,"v":-0.02},{"s":"C₂ · C₃*","t":1.7,"v":-0.035},{"s":"C₂ · C₃*","t":1.73,"v":-0.03},{"s":"C₂ · C₃*","t":1.76,"v":-0.025},{"s":"C₂ · C₃*","t":1.81,"v":-0.015},{"s":"C₂ · C₃*","t":1.84,"v":-0.025},{"s":"C₂ · C₃*","t":1.86,"v":-0.04},{"s":"C₂ · C₃*","t":1.9,"v":-0.05},{"s":"C₂ · C₃*","t":1.92,"v":-0.06},{"s":"C₂ · C₃*","t":1.95,"v":-0.045},{"s":"C₂ · C₃*","t":1.97,"v":-0.05},{"s":"C₂ · C₃*","t":1.99,"v":-0.065},{"s":"C₂ · C₃*","t":2.01,"v":-0.075},{"s":"C₂ · C₃*","t":2.03,"v":-0.06},{"s":"C₂ · C₃*","t":2.05,"v":-0.065},{"s":"C₂ · C₃*","t":2.07,"v":-0.08},{"s":"C₂ · C₃*","t":2.09,"v":-0.065},{"s":"C₂ · C₃*","t":2.11,"v":-0.07},{"s":"C₂ · C₃*","t":2.13,"v":-0.055},{"s":"C₂ · C₃*","t":2.15,"v":-0.045},{"s":"C₂ · C₃*","t":2.18,"v":-0.03},{"s":"C₂ · C₃*","t":2.21,"v":-0.03},{"s":"C₂ · C₃*","t":2.24,"v":-0.025},{"s":"C₂ · C₃*","t":2.27,"v":-0.03},{"s":"C₂ · C₃*","t":2.29,"v":-0.03},{"s":"C₂ · C₃*","t":2.32,"v":-0.02},{"s":"C₂ · C₃*","t":2.34,"v":-0.025},{"s":"C₂ · C₃*","t":2.37,"v":-0.02},{"s":"C₂ · C₃*","t":2.4,"v":-0.02},{"s":"C₂ · C₃*","t":2.43,"v":-0.03},{"s":"C₂ · C₃*","t":2.45,"v":-0.035},{"s":"C₂ · C₃*","t":2.48,"v":-0.03},{"s":"C₂ · C₃*","t":2.51,"v":-0.03},{"s":"C₂ · C₃*","t":2.53,"v":-0.04},{"s":"C₂ · C₃*","t":2.56,"v":-0.04},{"s":"C₂ · C₃*","t":2.58,"v":-0.035},{"s":"C₂ · C₃*","t":2.61,"v":-0.03},{"s":"C₂ · C₃*","t":2.64,"v":-0.028},{"s":"C₂ · C₃*","t":2.67,"v":-0.025},{"s":"C₂ · C₃*","t":2.7,"v":-0.02},{"s":"C₂ · C₃*","t":2.72,"v":-0.015},{"s":"C₂ · C₃*","t":2.76,"v":-0.012},{"s":"C₂ · C₃*","t":2.8,"v":-0.01},{"s":"C₂ · C₃*","t":2.85,"v":-0.007},{"s":"C₂ · C₃*","t":2.91,"v":-0.005},{"s":"C₂ · C₃*","t":3.0,"v":-0.004},{"s":"C₂ · C₃*","t":3.07,"v":-0.003},{"s":"C₂ · C₃*","t":3.2,"v":-0.001},{"s":"C₂ · C₃*","t":3.28,"v":0},{"s":"C₂ · C₃*","t":3.4,"v":-0.002},{"s":"C₂ · C₃*","t":3.5,"v":-0.002},{"s":"C₂ · C₃*","t":3.6,"v":-0.004},{"s":"C₂ · C₃*","t":3.63,"v":-0.005},{"s":"C₂ · C₃*","t":3.66,"v":-0.01},{"s":"C₂ · C₃*","t":3.68,"v":-0.015},{"s":"C₂ · C₃*","t":3.71,"v":-0.02},{"s":"C₂ · C₃*","t":3.73,"v":-0.03},{"s":"C₂ · C₃*","t":3.76,"v":-0.035},{"s":"C₂ · C₃*","t":3.79,"v":-0.045},{"s":"C₂ · C₃*","t":3.81,"v":-0.05},{"s":"C₂ · C₃*","t":3.83,"v":-0.06},{"s":"C₂ · C₃*","t":3.85,"v":-0.05},{"s":"C₂ · C₃*","t":3.87,"v":-0.04},{"s":"C₂ · C₃*","t":3.9,"v":-0.03},{"s":"C₂ · C₃*","t":3.92,"v":-0.025},{"s":"C₂ · C₃*","t":3.95,"v":-0.015},{"s":"C₂ · C₃*","t":3.98,"v":-0.01},{"s":"C₂ · C₃*","t":4.0,"v":-0.02},{"s":"C₂ · C₃*","t":4.03,"v":-0.02},{"s":"C₂ · C₃*","t":4.06,"v":-0.01},{"s":"C₂ · C₃*","t":4.08,"v":-0.005},{"s":"C₂ · C₃*","t":4.11,"v":-0.012},{"s":"C₂ · C₃*","t":4.14,"v":-0.01},{"s":"C₂ · C₃*","t":4.17,"v":-0.015},{"s":"C₂ · C₃*","t":4.19,"v":-0.02},{"s":"C₂ · C₃*","t":4.22,"v":-0.01},{"s":"C₂ · C₃*","t":4.25,"v":-0.01},{"s":"C₂ · C₃*","t":4.28,"v":-0.015},{"s":"C₂ · C₃*","t":4.3,"v":-0.02},{"s":"C₂ · C₃*","t":4.33,"v":-0.01},{"s":"C₂ · C₃*","t":4.35,"v":-0.005},{"s":"C₂ · C₃*","t":4.39,"v":-0.008},{"s":"C₂ · C₃*","t":4.43,"v":-0.01},{"s":"C₂ · C₃*","t":4.47,"v":-0.005},{"s":"C₂ · C₃*","t":4.51,"v":-0.003},{"s":"C₂ · C₃*","t":4.6,"v":-0.002},{"s":"C₂ · C₃*","t":4.7,"v":0},{"s":"C₂ · C₃*","t":4.85,"v":0},{"s":"C₂ · C₃*","t":5.0,"v":0}
    ],
    "quanta": [
      {"t":0,"n":2.22},{"t":0.005,"n":2.05},{"t":0.01,"n":2.2},{"t":0.02,"n":2.35},{"t":0.03,"n":2.56},{"t":0.04,"n":2.3},{"t":0.05,"n":2.4},{"t":0.06,"n":2.22},{"t":0.075,"n":2.51},{"t":0.09,"n":2.1},{"t":0.1,"n":2.35},{"t":0.115,"n":2.0},{"t":0.13,"n":2.25},{"t":0.14,"n":2.05},{"t":0.155,"n":2.3},{"t":0.17,"n":2.0},{"t":0.18,"n":1.75},{"t":0.19,"n":1.82},{"t":0.2,"n":1.6},{"t":0.22,"n":1.7},{"t":0.235,"n":1.35},{"t":0.255,"n":1.6},{"t":0.275,"n":1.82},{"t":0.29,"n":1.7},{"t":0.305,"n":1.92},{"t":0.32,"n":1.7},{"t":0.335,"n":1.45},{"t":0.35,"n":1.35},{"t":0.37,"n":1.23},{"t":0.385,"n":1.4},{"t":0.4,"n":1.5},{"t":0.42,"n":1.72},{"t":0.43,"n":1.45},{"t":0.45,"n":1.55},{"t":0.47,"n":1.7},{"t":0.49,"n":1.8},{"t":0.51,"n":1.7},{"t":0.53,"n":1.88},{"t":0.55,"n":1.75},{"t":0.57,"n":1.85},{"t":0.59,"n":1.78},{"t":0.61,"n":1.85},{"t":0.63,"n":1.75},{"t":0.65,"n":1.8},{"t":0.67,"n":1.68},{"t":0.69,"n":1.55},{"t":0.705,"n":1.42},{"t":0.725,"n":1.5},{"t":0.74,"n":1.42},{"t":0.76,"n":1.5},{"t":0.78,"n":1.4},{"t":0.8,"n":1.48},{"t":0.82,"n":1.35},{"t":0.84,"n":1.3},{"t":0.85,"n":1.18},{"t":0.87,"n":1.12},{"t":0.89,"n":1.1},{"t":0.92,"n":1.06},{"t":0.94,"n":1.05},{"t":0.96,"n":1.08},{"t":0.99,"n":1.09},{"t":1.02,"n":1.07},{"t":1.05,"n":1.1},{"t":1.08,"n":1.05},{"t":1.1,"n":1.03},{"t":1.13,"n":1.04},{"t":1.16,"n":1.06},{"t":1.19,"n":1.09},{"t":1.22,"n":1.1},{"t":1.24,"n":1.16},{"t":1.26,"n":1.1},{"t":1.29,"n":1.12},{"t":1.32,"n":1.05},{"t":1.35,"n":1.03},{"t":1.38,"n":1.04},{"t":1.41,"n":1.07},{"t":1.45,"n":1.08},{"t":1.49,"n":1.09},{"t":1.52,"n":1.1},{"t":1.54,"n":1.1},{"t":1.56,"n":1.17},{"t":1.58,"n":1.08},{"t":1.6,"n":1.06},{"t":1.62,"n":1.1},{"t":1.64,"n":1.2},{"t":1.66,"n":1.25},{"t":1.68,"n":1.32},{"t":1.7,"n":1.4},{"t":1.72,"n":1.35},{"t":1.74,"n":1.45},{"t":1.76,"n":1.55},{"t":1.78,"n":1.6},{"t":1.8,"n":1.65},{"t":1.82,"n":1.68},{"t":1.84,"n":1.55},{"t":1.86,"n":1.5},{"t":1.88,"n":1.42},{"t":1.9,"n":1.48},{"t":1.91,"n":1.35},{"t":1.93,"n":1.45},{"t":1.95,"n":1.55},{"t":1.97,"n":1.65},{"t":1.99,"n":1.8},{"t":2.01,"n":1.75},{"t":2.03,"n":1.85},{"t":2.06,"n":1.9},{"t":2.09,"n":1.88},{"t":2.12,"n":1.97},{"t":2.14,"n":1.9},{"t":2.16,"n":1.94},{"t":2.19,"n":1.88},{"t":2.21,"n":1.95},{"t":2.23,"n":1.85},{"t":2.25,"n":1.75},{"t":2.27,"n":1.7},{"t":2.29,"n":1.65},{"t":2.31,"n":1.78},{"t":2.33,"n":1.75},{"t":2.35,"n":1.8},{"t":2.37,"n":1.72},{"t":2.39,"n":1.65},{"t":2.41,"n":1.75},{"t":2.43,"n":1.6},{"t":2.45,"n":1.55},{"t":2.47,"n":1.68},{"t":2.49,"n":1.85},{"t":2.51,"n":1.9},{"t":2.53,"n":1.88},{"t":2.56,"n":1.93},{"t":2.59,"n":1.9},{"t":2.61,"n":1.92},{"t":2.64,"n":1.88},{"t":2.66,"n":1.82},{"t":2.69,"n":1.75},{"t":2.71,"n":1.65},{"t":2.73,"n":1.7},{"t":2.75,"n":1.62},{"t":2.77,"n":1.72},{"t":2.79,"n":1.55},{"t":2.8,"n":1.3},{"t":2.82,"n":1.45},{"t":2.84,"n":1.48},{"t":2.85,"n":1.3},{"t":2.87,"n":1.38},{"t":2.89,"n":1.35},{"t":2.91,"n":1.28},{"t":2.93,"n":1.22},{"t":2.95,"n":1.25},{"t":2.97,"n":1.18},{"t":2.99,"n":1.12},{"t":3.01,"n":1.14},{"t":3.04,"n":1.1},{"t":3.06,"n":1.08},{"t":3.09,"n":1.06},{"t":3.12,"n":1.08},{"t":3.15,"n":1.05},{"t":3.19,"n":1.04},{"t":3.22,"n":1.06},{"t":3.25,"n":1.05},{"t":3.28,"n":1.12},{"t":3.3,"n":1.07},{"t":3.33,"n":1.1},{"t":3.36,"n":1.07},{"t":3.4,"n":1.06},{"t":3.44,"n":1.04},{"t":3.48,"n":1.03},{"t":3.52,"n":1.02},{"t":3.56,"n":1.03},{"t":3.6,"n":1.02},{"t":3.64,"n":1.04},{"t":3.67,"n":1.05},{"t":3.7,"n":1.09},{"t":3.73,"n":1.12},{"t":3.76,"n":1.15},{"t":3.78,"n":1.12},{"t":3.81,"n":1.2},{"t":3.83,"n":1.22},{"t":3.86,"n":1.18},{"t":3.88,"n":1.27},{"t":3.9,"n":1.2},{"t":3.92,"n":1.24},{"t":3.94,"n":1.18},{"t":3.96,"n":1.1},{"t":3.98,"n":1.08},{"t":4.01,"n":1.15},{"t":4.03,"n":1.24},{"t":4.05,"n":1.2},{"t":4.07,"n":1.22},{"t":4.09,"n":1.15},{"t":4.11,"n":1.2},{"t":4.14,"n":1.12},{"t":4.16,"n":1.2},{"t":4.18,"n":1.1},{"t":4.21,"n":1.2},{"t":4.22,"n":1.25},{"t":4.24,"n":1.15},{"t":4.26,"n":1.3},{"t":4.28,"n":1.37},{"t":4.3,"n":1.25},{"t":4.32,"n":1.18},{"t":4.34,"n":1.15},{"t":4.36,"n":1.25},{"t":4.38,"n":1.35},{"t":4.4,"n":1.28},{"t":4.42,"n":1.22},{"t":4.44,"n":1.18},{"t":4.46,"n":1.1},{"t":4.49,"n":1.08},{"t":4.51,"n":1.06},{"t":4.54,"n":1.09},{"t":4.56,"n":1.1},{"t":4.58,"n":1.06},{"t":4.61,"n":1.04},{"t":4.64,"n":1.05},{"t":4.67,"n":1.06},{"t":4.7,"n":1.03},{"t":4.74,"n":1.02},{"t":4.78,"n":1.01},{"t":4.82,"n":1.02},{"t":4.86,"n":1.02},{"t":4.9,"n":1.02},{"t":4.94,"n":1.02},{"t":4.98,"n":1.03},{"t":5.0,"n":1.03}
    ]
  },
  "vconcat": [
    {
      "spacing": 32,
      "resolve": {"scale": {"color": "independent"}, "legend": {"color": "independent"}},
      "hconcat": [
        {
          "title": {"text": "(a) Evolution of some levels", "orient": "bottom", "anchor": "middle", "font": "DejaVu Serif", "fontSize": 19, "offset": 26, "color": "#111111"},
          "vconcat": [
            {
              "width": 382, "height": 230,
              "title": {"text": "Evolution of the energy levels", "fontSize": 10, "offset": 5},
              "data": {"name": "levels"},
              "mark": {"type": "line", "strokeWidth": 1.15, "clip": true},
              "encoding": {
                "x": {"field": "t", "type": "quantitative",
                      "scale": {"domain": [-0.25, 5.25], "nice": false, "zero": false},
                      "axis": {"values": [0, 1, 2, 3, 4, 5], "format": "d", "title": "Adimensional time τ", "labelFontSize": 10, "titleFontSize": 10, "labelPadding": 3, "titlePadding": 4}},
                "y": {"field": "v", "type": "quantitative",
                      "scale": {"domain": [-0.05, 1.04], "nice": false, "zero": false},
                      "axis": {"values": [0, 0.2, 0.4, 0.6, 0.8, 1.0], "format": ".1f", "title": "Energy levels Cₙ", "labelFontSize": 10, "titleFontSize": 10, "labelPadding": 3, "titlePadding": 9}},
                "color": {"field": "s", "type": "nominal",
                          "scale": {"domain": ["C₀", "C₁", "C₂", "C₃", "Cₙ"], "range": ["#ff0000", "#008000", "#00bfbf", "#bfbf00", "#000000"]},
                          "legend": {"legendX": 446, "legendY": 75.5, "rowPadding": 0}}
              }
            }
          ]
        },
        {
          "title": {"text": "(b) Evolution of some coherences", "orient": "bottom", "anchor": "middle", "font": "DejaVu Serif", "fontSize": 19, "offset": 26, "color": "#111111"},
          "vconcat": [
            {
              "width": 368, "height": 231,
              "title": {"text": "Evolution of the coherences", "fontSize": 10, "offset": 1.5},
              "data": {"name": "coher"},
              "mark": {"type": "line", "strokeWidth": 1.15, "clip": true},
              "encoding": {
                "x": {"field": "t", "type": "quantitative",
                      "scale": {"domain": [-0.25, 5.25], "nice": false, "zero": false},
                      "axis": {"values": [0, 1, 2, 3, 4, 5], "format": "d", "title": "Adimensional time τ", "labelFontSize": 10, "titleFontSize": 10, "labelPadding": 3, "titlePadding": 4}},
                "y": {"field": "v", "type": "quantitative",
                      "scale": {"domain": [-0.538, 0.476], "nice": false, "zero": false},
                      "axis": {"values": [-0.4, -0.2, 0, 0.2, 0.4], "format": ".1f", "title": "CoherencesCᵢ · Cⱼ*", "labelFontSize": 10, "titleFontSize": 10, "labelPadding": 3, "titlePadding": 5}},
                "color": {"field": "s", "type": "nominal",
                          "scale": {"domain": ["C₀ · C₁*", "C₁ · C₂*", "C₂ · C₃*"], "range": ["#1f77b4", "#ff7f0e", "#2ca02c"]},
                          "legend": {"legendX": 408, "legendY": 86.5, "rowPadding": 1.3}}
              }
            }
          ]
        }
      ]
    },
    {
      "title": {"text": "(c) Evolution of ⟨N⟩", "orient": "bottom", "anchor": "middle", "font": "DejaVu Serif", "fontSize": 19, "offset": 27, "color": "#111111"},
      "vconcat": [
        {
          "width": 454, "height": 273,
          "title": {"text": "Expectation value of the number of energy quanta", "fontSize": 12, "offset": 5},
          "data": {"name": "quanta"},
          "mark": {"type": "line", "strokeWidth": 1.6, "color": "#1f77b4", "clip": true},
          "encoding": {
            "x": {"field": "t", "type": "quantitative",
                  "scale": {"domain": [-0.25, 5.25], "nice": false, "zero": false},
                  "axis": {"values": [0, 1, 2, 3, 4, 5], "format": "d", "title": "Adimensional time τ", "labelFontSize": 12, "titleFontSize": 12, "labelPadding": 3, "titlePadding": 8.5}},
            "y": {"field": "n", "type": "quantitative",
                  "scale": {"domain": [0.937, 2.635], "nice": false, "zero": false},
                  "axis": {"values": [1.0, 1.2, 1.4, 1.6, 1.8, 2.0, 2.2, 2.4, 2.6], "format": ".1f", "title": "<N>", "labelFontSize": 12, "titleFontSize": 12, "labelPadding": 3, "titlePadding": 3}}
          }
        }
      ]
    }
  ]
}
